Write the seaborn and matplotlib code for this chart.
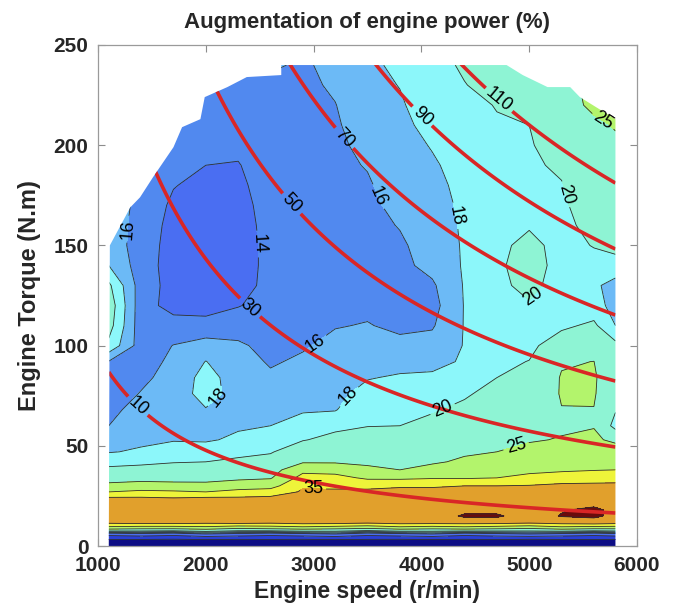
import numpy as np
import matplotlib
matplotlib.use("Agg")
import matplotlib.pyplot as plt
from matplotlib.colors import ListedColormap, BoundaryNorm
from matplotlib.path import Path
from matplotlib.patches import PathPatch
import seaborn as sns

# Measurement grid: engine speed (r/min) and torque (N.m)
speed_rpm = [1100, 1400, 1700, 2000, 2300, 2600, 2900, 3200, 3500,
             3800, 4100, 4400, 4700, 5000, 5300, 5600, 5800]
torque_nm = [0, 3, 6, 9, 12, 15, 18, 21, 24, 27, 30, 34, 38, 42, 47, 53, 60,
             68, 76, 84, 92, 100, 110, 120, 130, 140, 150, 160, 170, 180,
             190, 200, 210, 220, 230, 240]

# Augmentation of engine power (%), one row per torque value
gain_pct = [
    [2, 2, 2, 2, 2, 2, 2, 2, 2, 2, 2, 2, 2, 2, 2, 2, 2],
    [4.4, 4.2, 4.0, 4.3, 4.1, 4.3, 4.0, 4.4, 4.2, 4.0, 4.3, 4.1, 4.4, 3.9, 4.2, 4.3, 4.1],
    [12, 13, 12, 14, 13, 12, 13, 14, 12, 13, 14, 12, 13, 14, 13, 12, 13],
    [28, 27, 27, 28, 26, 27, 28, 27, 26, 28, 27, 28, 27, 26, 28, 27, 27],
    [37, 38, 38, 37, 38, 37, 38, 38, 37, 38, 38, 38, 38, 37, 38, 39, 38],
    [40, 40.5, 41, 41, 41, 41, 41, 41.5, 41.5, 41.5, 37, 47, 47, 38, 45.8, 48, 41],
    [40, 40, 40.5, 40.5, 40.5, 40.5, 41, 41, 41, 41, 41, 41, 41, 41, 44, 48, 41],
    [38.5, 38.5, 38, 38.5, 38.5, 38.5, 39.5, 39.5, 39.5, 40, 40, 40, 40, 40.5, 41, 42, 40],
    [35.5, 35.5, 35, 35.5, 35.5, 36, 37.5, 37.5, 37.5, 38, 38.5, 38.5, 38.5, 39, 39.5, 40, 39],
    [30, 31, 30.7, 30, 31.5, 32, 35.6, 35.8, 36, 36.3, 36.6, 37, 37, 37.5, 38, 38.5, 38],
    [26.2, 27, 26.4, 26.2, 27.5, 28.3, 34.4, 34.1, 33.8, 34.5, 34.4, 35, 35, 35.3, 36.2, 36.3, 36.2],
    [23.1, 23.4, 23.5, 23.6, 24.1, 24.6, 31.7, 31.6, 29.2, 29, 29.6, 29.5, 30, 31.1, 32, 32.5, 33],
    [20.6, 20.9, 21.5, 21.8, 22.3, 23, 28.7, 28.1, 25.8, 25, 26.3, 27.5, 28.5, 29, 29.4, 29.8, 30],
    [19.1, 19.4, 19.8, 20, 20.5, 21.3, 24.5, 24.5, 24.3, 24.1, 24.5, 25.6, 26.9, 27.7, 28.3, 28.6, 28.9],
    [17.9, 18.2, 18.7, 18.9, 19.3, 19.7, 22.3, 22.9, 23, 23, 23.5, 24.5, 25, 26, 26.9, 27.4, 27.5],
    [17, 17.7, 17.9, 17.8, 18.3, 18.9, 19.8, 21, 21.5, 21.6, 22.3, 23.5, 24.2, 24.7, 25.2, 25.8, 24],
    [16, 17.2, 17.6, 17.5, 17.8, 18, 18.8, 19.2, 19.9, 20, 20.9, 22, 23.2, 23.7, 24.5, 24.8, 18.6],
    [15.5, 16.7, 17.3, 17.9, 17.5, 17.4, 17.8, 17.9, 19.3, 19.4, 19.7, 20.7, 22.2, 22.6, 24.9, 24.9, 20.3],
    [15, 16.1, 17, 18.7, 17.3, 16.9, 17.2, 17.5, 18.6, 18.8, 19, 19.6, 21.1, 21.7, 25.3, 25.4, 21.3],
    [15.4, 15.6, 16.7, 18.7, 17.1, 16.3, 16.8, 17.2, 17.9, 18.2, 18.3, 18.6, 20, 20.8, 25.3, 25.6, 21.4],
    [15.9, 15.2, 16.4, 18.05, 16.8, 15.8, 16.3, 16.9, 17.4, 17.4, 17.5, 18.2, 19.6, 20.05, 24.6, 25.05, 21.1],
    [19.5, 15, 16.05, 16.8, 16.3, 15.4, 15.8, 16.5, 16.8, 16.5, 16.7, 18.1, 19.3, 19.5, 21.2, 22.8, 20.6],
    [20.85, 14.8, 14.8, 14.7, 15.1, 15, 15.3, 15.9, 16.1, 15.6, 15.8, 18.1, 19.2, 19.3, 19.6, 20.4, 18],
    [21.3, 14.8, 13.3, 13.2, 13.9, 14.7, 15.1, 15.5, 15.6, 15.4, 15.3, 18.1, 19.3, 19.8, 19.2, 18.8, 17.3],
    [20.4, 15, 13.3, 12.9, 13.2, 14.6, 15, 15.3, 15.4, 15.4, 15.7, 18.15, 19.5, 20.6, 19.1, 18.3, 17.4],
    [18, 15, 13.1, 12.8, 13, 14.6, 14.9, 15.2, 15.3, 15.5, 16.6, 18.2, 19.6, 21, 19.2, 19.3, 19],
    [17, 15.2, 13.1, 12.8, 13, 14.6, 14.9, 15.2, 15.3, 15.7, 16.9, 18.2, 19.5, 20.6, 19.3, 20.1, 20.8],
    [17, 15.3, 13.3, 12.9, 13.1, 14.7, 15, 15.3, 15.4, 16.1, 17.1, 18.25, 19.4, 19.8, 19.5, 20.6, 21.2],
    [17, 15.5, 13.6, 13.1, 13.3, 14.8, 15, 15.4, 15.6, 16.5, 17.4, 18.3, 19.4, 19.6, 19.7, 21, 21.5],
    [17, 15.8, 14.1, 13.4, 13.6, 14.9, 15.1, 15.5, 15.8, 16.9, 17.6, 18.4, 19.5, 19.6, 19.9, 21.4, 22],
    [17, 15.8, 14.6, 14, 13.9, 15, 15.2, 15.6, 16.1, 17.2, 17.8, 18.6, 19.6, 19.7, 20.3, 21.8, 22.6],
    [17, 15.8, 15, 14.6, 14.4, 15.1, 15.3, 15.7, 16.4, 17.4, 18.1, 18.9, 19.75, 19.85, 20.8, 22.3, 23.8],
    [17, 15.8, 15.2, 15, 14.8, 15.2, 15.4, 15.8, 16.8, 17.6, 18.5, 19.3, 19.9, 20, 21.3, 23.5, 25.5],
    [17, 15.8, 15.2, 15.2, 15, 15.3, 15.5, 15.95, 17.1, 17.8, 18.9, 19.7, 20.05, 20.4, 21.8, 26.5, 27],
    [17, 15.8, 15.2, 15.3, 15.2, 15.5, 15.6, 16.25, 17.5, 18.05, 19.3, 19.95, 20.5, 20.9, 22.5, 27, 27.5],
    [17, 15.8, 15.2, 15.3, 15.4, 16.3, 15.7, 16.6, 17.8, 18.2, 19.5, 20.2, 21, 21.4, 23, 27.5, 28],
]

# Full-load limit of the measured map
env_speed = [1100, 1110, 1300, 1390, 1510, 1700, 1780, 1950, 1990, 2200, 2380,
             2700, 2700, 4790, 4940, 5170, 5380, 5470, 5800, 5800]
env_torque = [0, 150, 169, 174, 184, 199, 209, 213, 224, 229, 234,
              235, 240, 240, 235, 229, 229, 224, 213, 0]

levels = [0, 5, 10, 14, 16, 18, 20, 25, 30, 35, 45, 60]
band_colors = ['#0d0d85', '#2a3fd6', '#4a6ef2', '#5189ef', '#6cbaf6', '#8cf7fa',
               '#8ef4d4', '#b3f46c', '#eef43a', '#e1a02c', '#6a0c0c']

# Constant-power lines (kW)
power_kw = [10, 30, 50, 70, 90, 110, 130]

gain_labels = {
    14: [(2364, 150)],
    16: [(1306, 158), (3588, 174), (2967, 105)],
    18: [(4340, 165), (2085, 76), (3273, 77)],
    20: [(5304, 175), (5007, 126), (4191, 69)],
    25: [(5675, 211), (4887, 48)],
    35: [(2994, 30)],
}
power_labels = [(1371, 70), (2410, 119), (2800, 171), (3273, 203),
                (4015, 215), (4710, 222)]

x_ticks = [1000, 2000, 3000, 4000, 5000, 6000]
y_ticks = [0, 50, 100, 150, 200, 250]

sns.set_theme(style="ticks")
plt.rcParams['font.family'] = ['Liberation Sans', 'DejaVu Sans']

fig = plt.figure(figsize=(6.75, 6.10), dpi=100)
ax = fig.add_axes([98 / 675, 64 / 610, 539 / 675, 501 / 610])

X, Y = np.meshgrid(speed_rpm, torque_nm)
Z = np.array(gain_pct, dtype=float)

cmap = ListedColormap(band_colors)
norm = BoundaryNorm(levels, cmap.N)

verts = list(zip(env_speed, env_torque)) + [(env_speed[0], env_torque[0])]
limit_path = Path(verts, closed=True)
clip = PathPatch(limit_path, transform=ax.transData, facecolor='none',
                 edgecolor='none')
ax.add_patch(clip)

cf = ax.contourf(X, Y, Z, levels=levels, cmap=cmap, norm=norm)
cf.set_clip_path(clip)

for lev in levels[1:-1]:
    cs = ax.contour(X, Y, Z, levels=[lev], colors='#2e2e2e', linewidths=0.6)
    if lev in gain_labels:
        ax.clabel(cs, manual=gain_labels[lev], inline=True, fontsize=13,
                  fmt='%d', colors='black', inline_spacing=4)
    cs.set_clip_path(clip)

# Iso-power curves P = T * omega
ns = np.linspace(1100, 5800, 300)
ts = np.linspace(0, 250, 300)
NS, TS = np.meshgrid(ns, ts)
P = NS * TS * np.pi / 30000.0
rc = ax.contour(NS, TS, P, levels=power_kw, colors='#d92626', linewidths=2.6)
ax.clabel(rc, manual=power_labels, inline=True, fontsize=13, fmt='%d',
          colors='black', inline_spacing=4)
rc.set_clip_path(clip)

ax.set_xlim(1000, 6000)
ax.set_ylim(0, 250)
ax.set_xticks(x_ticks)
ax.set_yticks(y_ticks)
ax.tick_params(direction='in', length=5, width=0.8, color='#8c8c8c',
               top=True, right=True, labelsize=15)
ax.tick_params(axis='x', pad=7)
ax.tick_params(axis='y', pad=7)
for lbl in ax.get_xticklabels() + ax.get_yticklabels():
    lbl.set_fontweight('bold')
for sp in ax.spines.values():
    sp.set_color('#9a9a9a')
    sp.set_linewidth(0.9)

ax.set_title('Augmentation of engine power (%)', fontsize=16,
             fontweight='bold', pad=12)
ax.set_xlabel('Engine speed (r/min)', fontsize=16.5, fontweight='bold', labelpad=4)
ax.set_ylabel('Engine Torque (N.m)', fontsize=17, fontweight='bold', labelpad=9)

fig.savefig('out.png', dpi=100, facecolor='white')
